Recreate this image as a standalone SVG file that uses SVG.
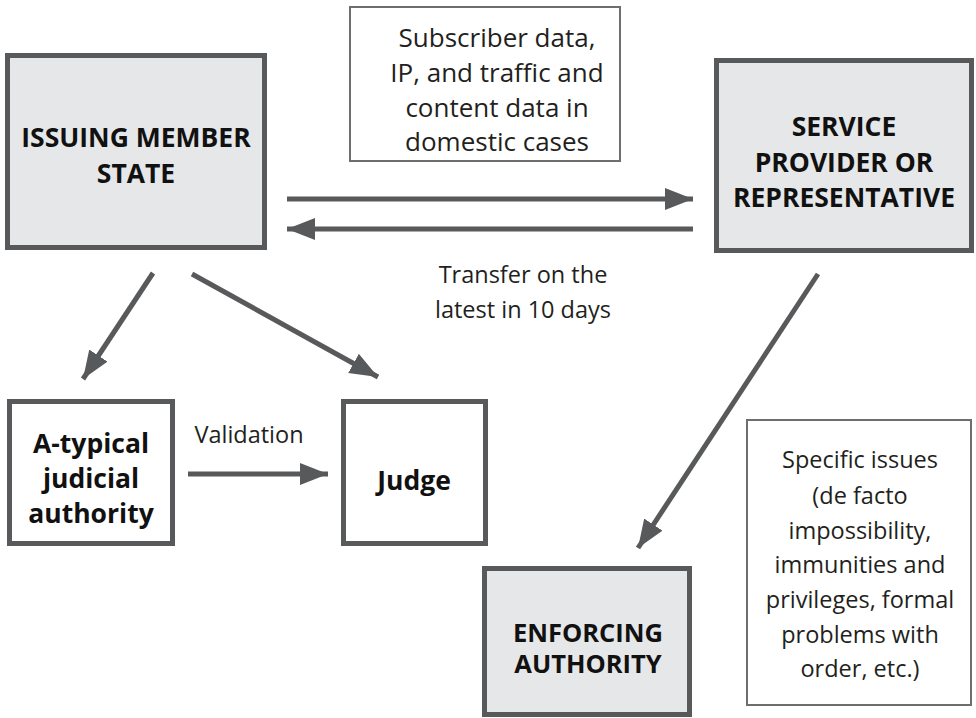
<svg xmlns="http://www.w3.org/2000/svg" width="976" height="718" viewBox="0 0 976 718">
  <style>
    .box-main { fill: #e6e7e8; stroke: #58595b; stroke-width: 5; }
    .box-plain { fill: #ffffff; stroke: #58595b; stroke-width: 5; }
    .box-note { fill: #ffffff; stroke: #6d6e70; stroke-width: 2; }
    .head { font-family: "Open Sans", "Noto Sans", "Liberation Sans", sans-serif; font-weight: bold; font-size: 26.5px; fill: #111111; text-anchor: middle; }
    .body { font-family: "Open Sans", "Noto Sans", "Liberation Sans", sans-serif; font-size: 23.5px; fill: #231f20; text-anchor: middle; }
    .big { font-size: 26px; }
    .link { stroke: #58595b; stroke-width: 5; fill: none; marker-end: url(#arrow); }
  </style>
  <defs>
    <marker id="arrow" viewBox="0 0 28 22" refX="28" refY="11" markerWidth="28" markerHeight="22" markerUnits="userSpaceOnUse" orient="auto">
      <path d="M0,0 L28,11 L0,22 Z" fill="#58595b"/>
    </marker>
  </defs>

  <!-- connectors -->
  <g id="connectors">
    <line class="link" x1="287" y1="199" x2="693" y2="199"/>
    <line class="link" x1="693" y1="229" x2="287" y2="229"/>
    <line class="link" x1="153" y1="273" x2="83" y2="379"/>
    <line class="link" x1="192" y1="274" x2="378" y2="377"/>
    <line class="link" x1="188" y1="474" x2="328" y2="474"/>
    <line class="link" x1="818" y1="274" x2="638" y2="548"/>
  </g>

  <!-- issuing member state -->
  <g id="issuing-member-state">
    <rect class="box-main" x="7.5" y="55.5" width="257" height="192"/>
    <text class="head" x="136" y="147">ISSUING MEMBER</text>
    <text class="head" x="136" y="183">STATE</text>
  </g>

  <!-- data categories note -->
  <g id="data-note">
    <rect class="box-note" x="350" y="7" width="270" height="154"/>
    <text class="body big" x="497" y="47">Subscriber data,</text>
    <text class="body big" x="497" y="82">IP, and traffic and</text>
    <text class="body big" x="497" y="117">content data in</text>
    <text class="body big" x="497" y="151">domestic cases</text>
  </g>

  <!-- service provider -->
  <g id="service-provider">
    <rect class="box-main" x="716.5" y="60.5" width="255" height="190"/>
    <text class="head" x="844" y="136">SERVICE</text>
    <text class="head" x="844" y="172">PROVIDER OR</text>
    <text class="head" x="844" y="207">REPRESENTATIVE</text>
  </g>

  <!-- transfer deadline label -->
  <g id="transfer-label">
    <text class="body" x="523" y="283">Transfer on the</text>
    <text class="body" x="523" y="318">latest in 10 days</text>
  </g>

  <!-- atypical judicial authority -->
  <g id="atypical-authority">
    <rect class="box-plain" x="9.5" y="401.5" width="163" height="142"/>
    <text class="head" x="91" y="453">A-typical</text>
    <text class="head" x="91" y="488">judicial</text>
    <text class="head" x="91" y="523">authority</text>
  </g>

  <!-- validation label -->
  <g id="validation-label">
    <text class="body" x="249" y="443">Validation</text>
  </g>

  <!-- judge -->
  <g id="judge">
    <rect class="box-plain" x="343.5" y="401.5" width="142" height="142"/>
    <text class="head" x="414" y="490">Judge</text>
  </g>

  <!-- specific issues note -->
  <g id="issues-note">
    <rect class="box-note" x="747" y="420" width="224" height="285"/>
    <text class="body" x="860" y="468">Specific issues</text>
    <text class="body" x="860" y="504">(de facto</text>
    <text class="body" x="860" y="539">impossibility,</text>
    <text class="body" x="860" y="573">immunities and</text>
    <text class="body" x="860" y="608">privileges, formal</text>
    <text class="body" x="860" y="643">problems with</text>
    <text class="body" x="860" y="677">order, etc.)</text>
  </g>

  <!-- enforcing authority -->
  <g id="enforcing-authority">
    <rect class="box-main" x="484.5" y="568.5" width="205" height="146"/>
    <text class="head" x="588" y="642" style="font-size:25.5px">ENFORCING</text>
    <text class="head" x="588" y="673" style="font-size:25.5px">AUTHORITY</text>
  </g>
</svg>
